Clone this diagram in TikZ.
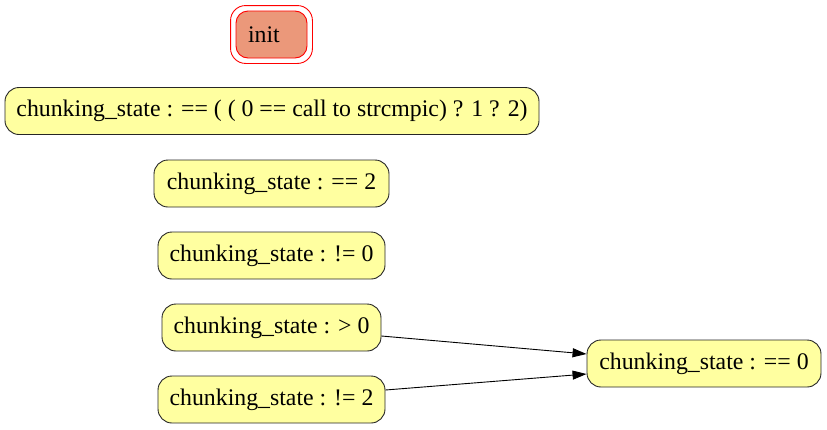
\documentclass[tikz,border=0pt]{standalone}
\usepackage{fontspec}
\setmainfont{Liberation Serif}
\usetikzlibrary{arrows.meta}
\definecolor{nodeyellow}{HTML}{FFFFA0}
\definecolor{initfill}{HTML}{EB987A}
\begin{document}
\begin{tikzpicture}[x=1pt,y=-1pt,
  statebox/.style={draw=black!85, line width=0.9pt, fill=nodeyellow, rounded corners=14pt,
    minimum height=47pt, inner sep=0pt, font=\fontsize{23.8}{28}\selectfont},
  initbox/.style={draw=red, line width=0.9pt, fill=initfill, rounded corners=12pt,
    minimum height=47pt, inner xsep=12pt, inner ysep=0pt, text width=47pt, align=left,
    font=\fontsize{23.8}{28}\selectfont},
  edge/.style={draw=black, line width=0.9pt, -{Triangle[length=14pt,width=9pt]}}]
\useasboundingbox (0,0) rectangle (827,429);
\node[initbox] (init) at (271.5,34.5) {init};
\draw[red, line width=0.9pt, rounded corners=15pt]
  ([shift={(-5pt,-5pt)}]init.south west) rectangle ([shift={(5pt,5pt)}]init.north east);
\node[statebox, minimum width=534pt] (n1) at (272,111) {chunking\_state : == ( ( 0 == call to strcmpic) ? 1 ? 2)};
\node[statebox, minimum width=235pt] (n2) at (271.5,183.5) {chunking\_state : == 2};
\node[statebox, minimum width=227pt] (n3) at (271.5,255.5) {chunking\_state : != 0};
\node[statebox, minimum width=219pt] (n4) at (271.5,327.5) {chunking\_state : > 0};
\node[statebox, minimum width=227pt] (n5) at (271.5,399.5) {chunking\_state : != 2};
\node[statebox, minimum width=234pt] (n6) at (704,363.5) {chunking\_state : == 0};
\draw[edge] (n4.east |- 0,336) -- (n6.west |- 0,354);
\draw[edge] (n5.east |- 0,390) -- (n6.west |- 0,374);
\end{tikzpicture}
\end{document}
